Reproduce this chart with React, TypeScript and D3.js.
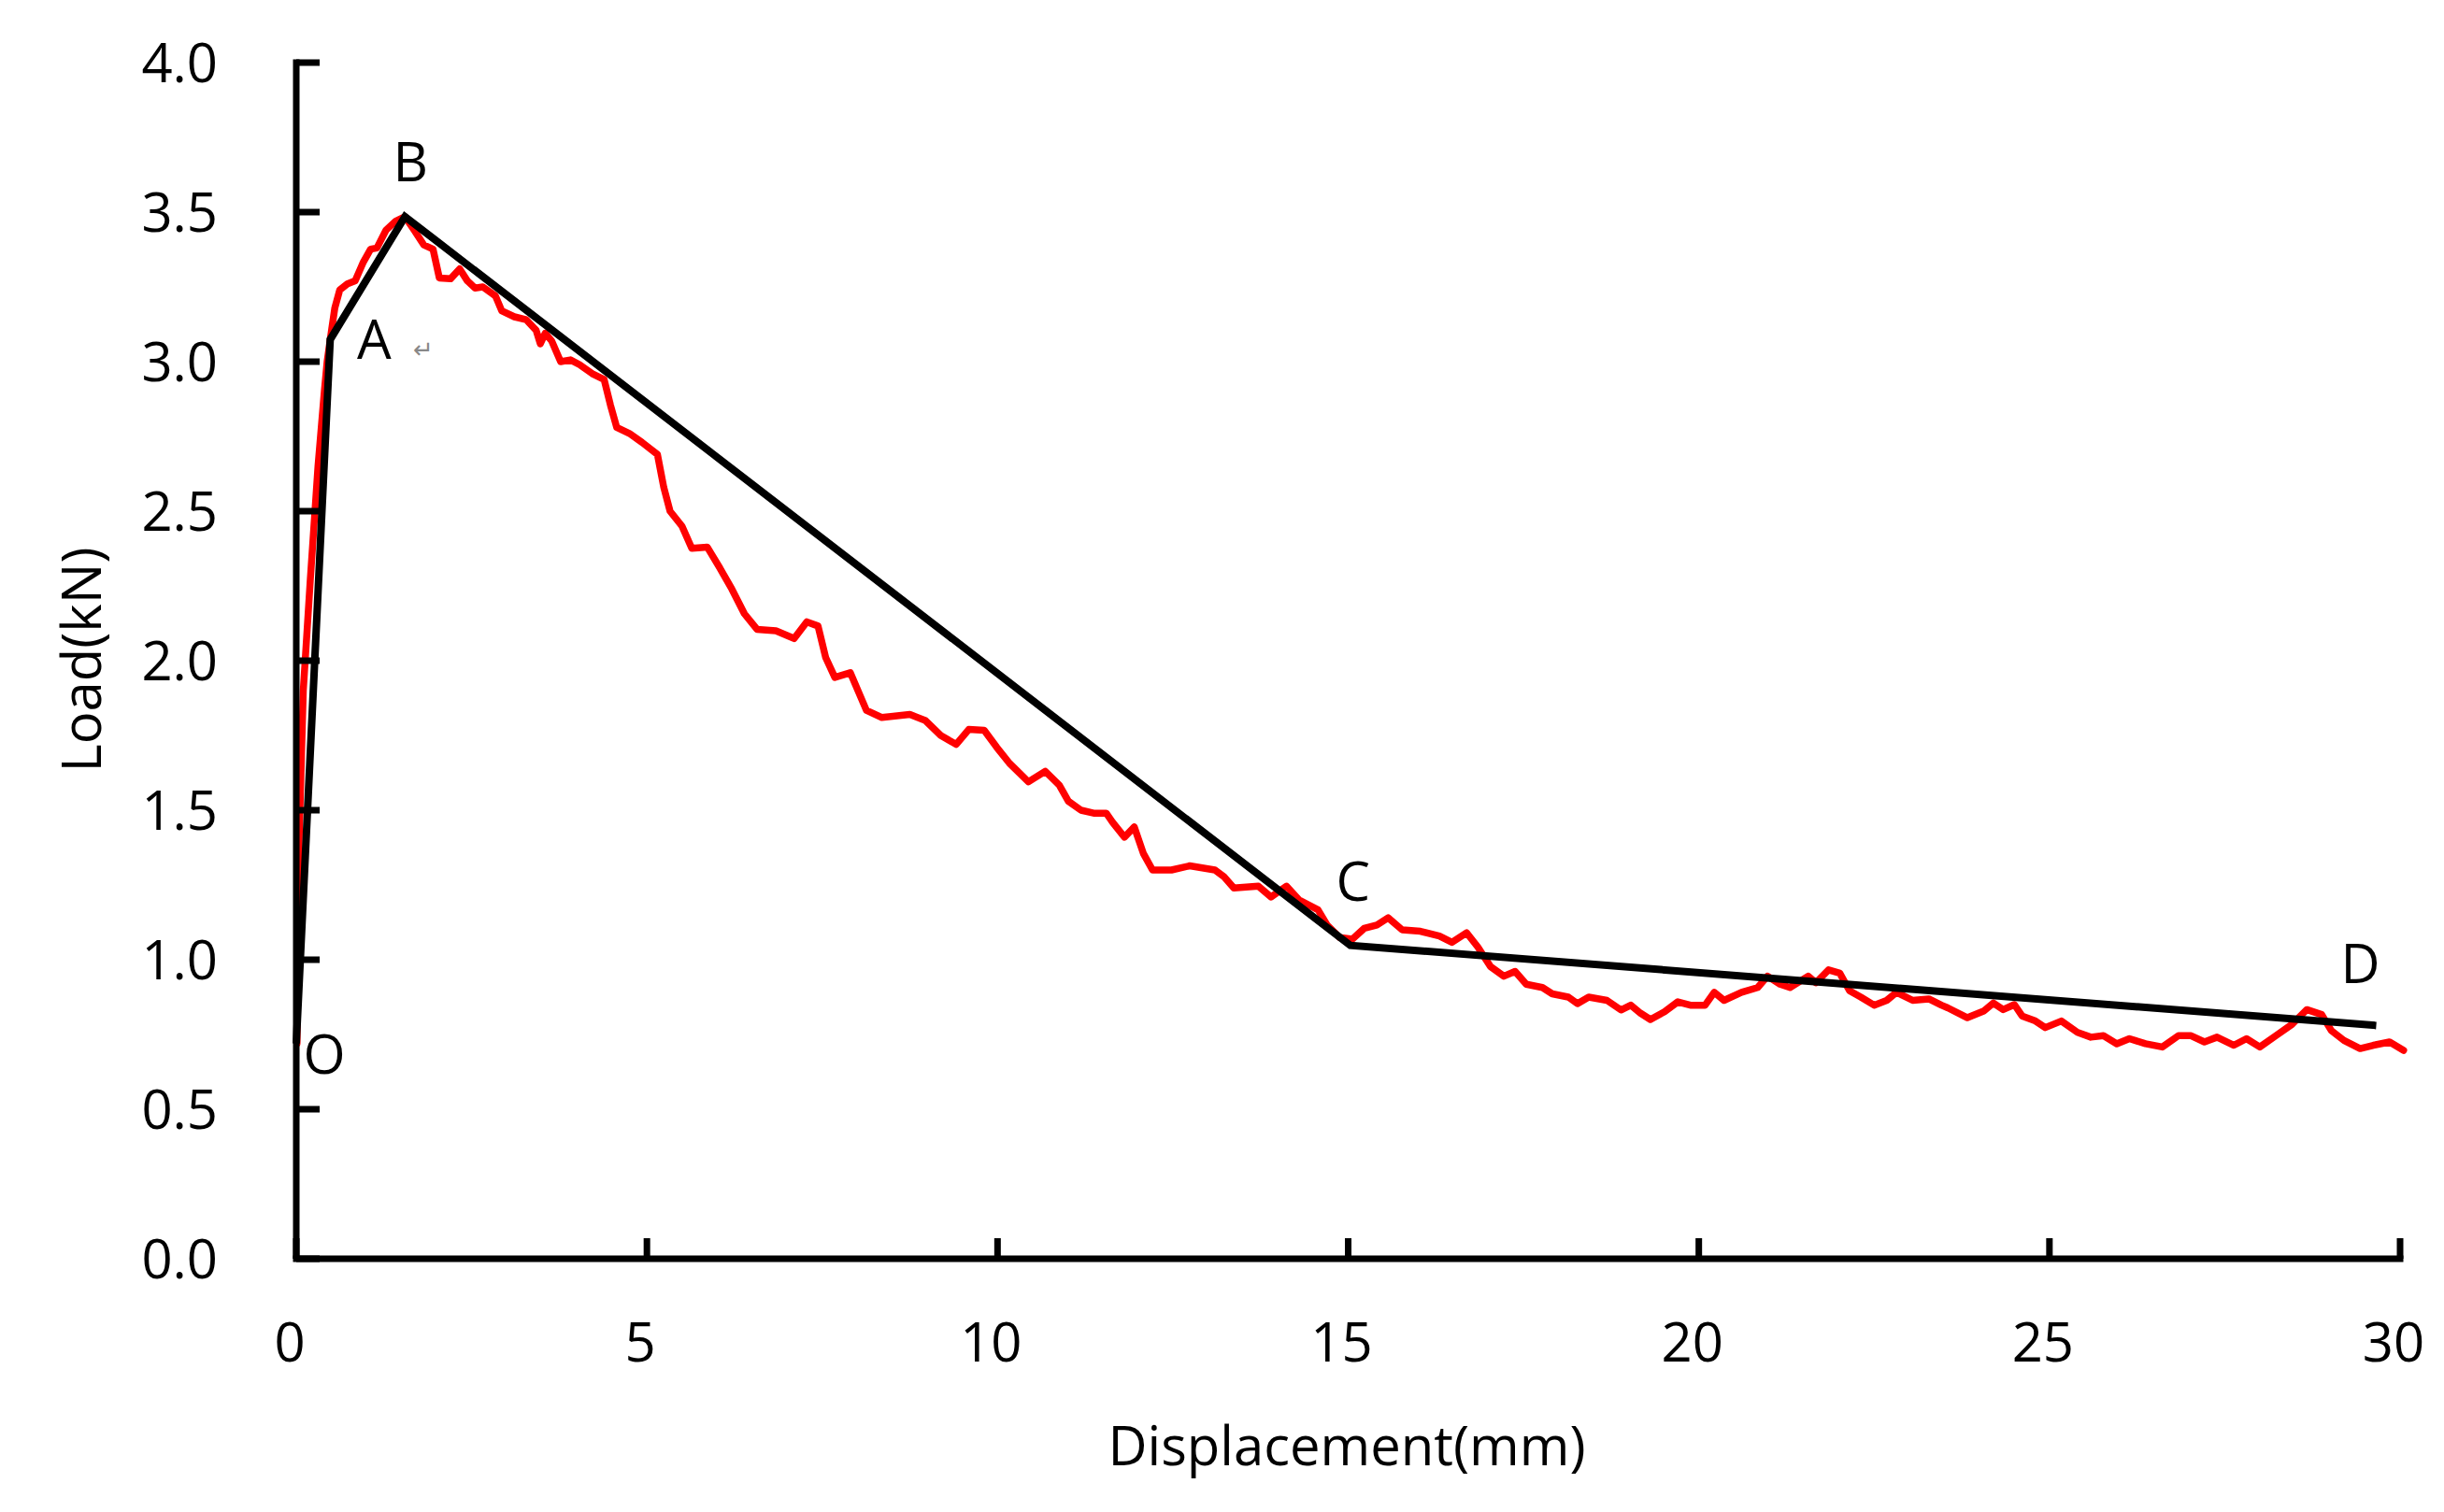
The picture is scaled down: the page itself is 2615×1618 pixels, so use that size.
import React from "react";
import * as d3 from "d3";

// Measured load–displacement curve (red)
const curveDisp: number[] = [
  0.01, 0.04, 0.1, 0.2, 0.31, 0.4, 0.44, 0.5, 0.55, 0.62, 0.73, 0.84, 0.95, 1.06, 1.15, 1.28, 1.42, 1.55,
  1.68, 1.82, 1.95, 2.04, 2.2, 2.33, 2.44, 2.55, 2.66, 2.84, 2.93, 3.11, 3.28, 3.42, 3.48, 3.55, 3.64,
  3.77, 3.91, 4.04, 4.22, 4.39, 4.48, 4.57, 4.75, 4.93, 5.15, 5.24, 5.33, 5.5, 5.64, 5.86, 6.04, 6.21,
  6.39, 6.57, 6.84, 7.1, 7.28, 7.44, 7.55, 7.68, 7.9, 8.13, 8.35, 8.75, 8.97, 9.19, 9.41, 9.59, 9.81,
  9.99, 10.17, 10.44, 10.68, 10.88, 11.01, 11.19, 11.37, 11.55, 11.64, 11.81, 11.95, 12.08, 12.21,
  12.48, 12.74, 13.1, 13.23, 13.37, 13.72, 13.9, 14.12, 14.3, 14.57, 14.7, 14.88, 15.06, 15.23, 15.41,
  15.57, 15.77, 16.03, 16.3, 16.48, 16.69, 16.85, 17.03, 17.22, 17.38, 17.54, 17.77, 17.91,
  18.14, 18.27, 18.43, 18.69, 18.89, 19.03, 19.17, 19.31, 19.51, 19.7, 19.88, 20.09, 20.22, 20.36,
  20.61, 20.84, 20.98, 21.16, 21.3, 21.56, 21.67, 21.85, 22.01, 22.15, 22.31, 22.5, 22.68, 22.82, 23.05,
  23.28, 23.46, 23.55, 23.83, 24.06, 24.2, 24.34, 24.5, 24.61, 24.8, 24.94, 25.17, 25.4, 25.59,
  25.77, 25.96, 26.14, 26.37, 26.61, 26.84, 27.02, 27.21, 27.39, 27.63, 27.81, 28.0, 28.23, 28.46,
  28.67, 28.88, 29.02, 29.2, 29.43, 29.62, 29.85, 30.05,
];
const curveLoad: number[] = [
  0.72, 1.4, 1.9, 2.27, 2.65, 2.9, 3.0, 3.1, 3.18, 3.24, 3.26, 3.27, 3.33, 3.376, 3.38, 3.44, 3.47, 3.485,
  3.44, 3.39, 3.376, 3.28, 3.277, 3.31, 3.27, 3.246, 3.25, 3.22, 3.17, 3.15, 3.14, 3.105, 3.06, 3.095, 3.07,
  3.0, 3.006, 2.99, 2.96, 2.94, 2.855, 2.78, 2.76, 2.73, 2.69, 2.58, 2.5, 2.45, 2.376, 2.38, 2.31, 2.24,
  2.157, 2.105, 2.1, 2.074, 2.13, 2.116, 2.01, 1.944, 1.96, 1.834, 1.81, 1.82, 1.8, 1.75, 1.72, 1.77, 1.767,
  1.71, 1.657, 1.595, 1.63, 1.584, 1.53, 1.5, 1.49, 1.49, 1.46, 1.41, 1.444, 1.355, 1.3,
  1.3, 1.314, 1.3, 1.277, 1.24, 1.246, 1.21, 1.246, 1.2, 1.167, 1.116, 1.074, 1.069, 1.105, 1.116,
  1.14, 1.1, 1.095, 1.079, 1.058, 1.09, 1.042, 0.977, 0.945, 0.961, 0.918, 0.907, 0.886,
  0.875, 0.853, 0.875, 0.864, 0.832, 0.848, 0.821, 0.8, 0.826, 0.859, 0.848, 0.848, 0.891, 0.864,
  0.891, 0.907, 0.945, 0.918, 0.907, 0.945, 0.923, 0.966, 0.955, 0.896, 0.875, 0.848, 0.864, 0.891, 0.864,
  0.869, 0.848, 0.839, 0.806, 0.828, 0.855, 0.833, 0.85, 0.812, 0.795, 0.773, 0.795, 0.757, 0.741,
  0.746, 0.719, 0.736, 0.719, 0.708, 0.746, 0.746, 0.725, 0.741, 0.714, 0.736, 0.708, 0.746, 0.784,
  0.833, 0.817, 0.763, 0.73, 0.703, 0.714, 0.725, 0.697,
];

// Simplified model (black polyline)
const keyLabels: string[] = ["O", "A", "B", "C", "D"];
const keyDisp: number[] = [0, 0.484, 1.55, 15.03, 29.66];
const keyLoad: number[] = [0.72, 3.074, 3.485, 1.048, 0.78];

const xTicks: number[] = [0, 5, 10, 15, 20, 25, 30];
const yTicks: number[] = [0, 0.5, 1, 1.5, 2, 2.5, 3, 3.5, 4];

const xTitle = "Displacement(mm)";
const yTitle = "Load(kN)";

const W = 2615;
const H = 1618;
const FONT = "'Open Sans', 'Noto Sans', sans-serif";

// label offsets relative to key points (px)
const labelOffsets: [number, number][] = [
  [30, 32],
  [47, 21],
  [6, -38],
  [3, -48],
  [-17, -45],
];

export default function App() {
  const x = d3.scaleLinear().domain([0, 30]).range([317, 2568]);
  const y = d3.scaleLinear().domain([0, 4]).range([1347, 67]);

  const curve = curveDisp.map((d, i) => [d, curveLoad[i]] as [number, number]);
  const keys = keyDisp.map((d, i) => [d, keyLoad[i]] as [number, number]);

  const line = d3
    .line<[number, number]>()
    .x((d) => x(d[0]))
    .y((d) => y(d[1]));

  const fmtY = d3.format(".1f");

  return (
    <svg
      width={W}
      height={H}
      style={{ position: "absolute", left: 0, top: 0, background: "#fff" }}
    >
      <rect x={0} y={0} width={W} height={H} fill="#fff" />
      {/* red measured curve */}
      <path
        d={line(curve) || ""}
        fill="none"
        stroke="#ff0000"
        strokeWidth={7.5}
        strokeLinejoin="round"
        strokeLinecap="round"
      />
      {/* black model polyline */}
      <path
        d={line(keys) || ""}
        fill="none"
        stroke="#000"
        strokeWidth={8}
        strokeLinejoin="miter"
      />
      {/* axes */}
      <g stroke="#000" strokeWidth={7} fill="none">
        <line x1={x(0)} y1={y(0)} x2={x(0)} y2={y(4) - 3.5} />
        <line x1={x(0) - 3.5} y1={y(0)} x2={x(30) + 3.5} y2={y(0)} />
        {yTicks.map((t) => (
          <line key={"yt" + t} x1={x(0)} x2={x(0) + 25} y1={y(t)} y2={y(t)} />
        ))}
        {xTicks.map((t) => (
          <line key={"xt" + t} x1={x(t)} x2={x(t)} y1={y(0)} y2={y(0) - 22} />
        ))}
      </g>
      {/* tick labels */}
      <g fontFamily={FONT} fontSize={58} fill="#000">
        {yTicks.map((t) => (
          <text key={"yl" + t} x={233} y={y(t) + 21} textAnchor="end">
            {fmtY(t)}
          </text>
        ))}
        {xTicks.map((t) => (
          <text key={"xl" + t} x={x(t) - 7} y={1457} textAnchor="middle">
            {String(t)}
          </text>
        ))}
        <text x={1441} y={1568} textAnchor="middle">
          {xTitle}
        </text>
        <text
          x={0}
          y={0}
          textAnchor="middle"
          transform={`translate(108, 706) rotate(-90)`}
        >
          {yTitle}
        </text>
        {keys.map((k, i) => (
          <text
            key={"kl" + i}
            x={x(k[0]) + labelOffsets[i][0]}
            y={y(k[1]) + labelOffsets[i][1]}
            textAnchor="middle"
          >
            {keyLabels[i]}
          </text>
        ))}
      </g>
      <text
        x={x(keyDisp[1]) + 100}
        y={y(keyLoad[1]) + 20}
        fontFamily={FONT}
        fontSize={26}
        fill="#888"
        textAnchor="middle"
      >
        ↵
      </text>
    </svg>
  );
}
